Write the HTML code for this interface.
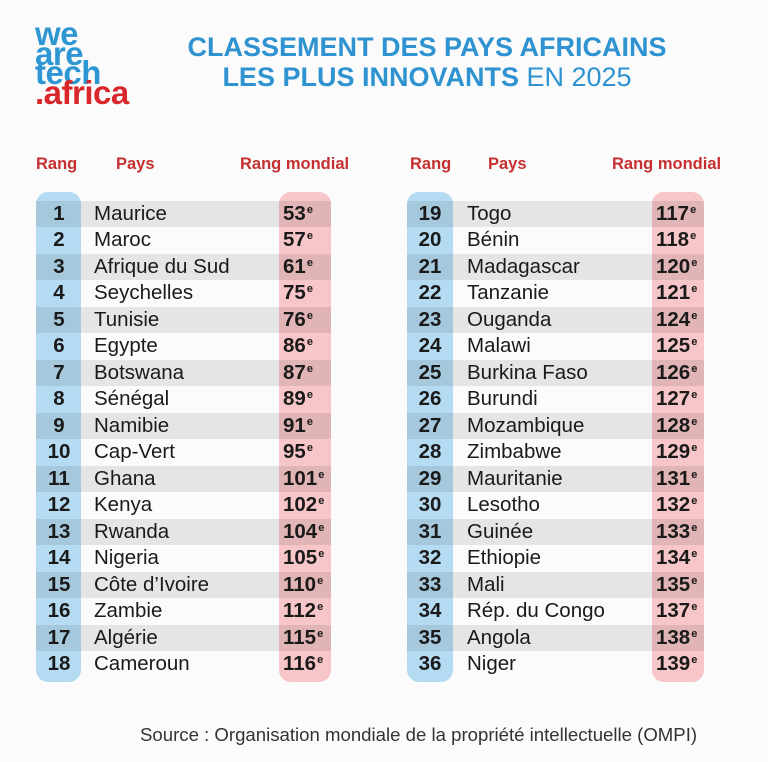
<!DOCTYPE html>
<html><head><meta charset="utf-8"><style>
body{margin:0;width:768px;height:762px;background:#fbfbfb;font-family:"Liberation Sans",Arial,sans-serif;position:relative;overflow:hidden}
.logo{position:absolute;left:35px;top:24px;font-weight:bold;font-size:33px;line-height:19.5px;letter-spacing:-0.5px;color:#2e97d3}
.logo .r{color:#d8262b}
.title{position:absolute;left:100px;width:654px;text-align:center;top:32px;color:#2e93d0;font-size:27px;line-height:30px;font-weight:bold}
.title span{font-weight:normal}
.h{position:absolute;top:155px;color:#c62f2f;font-size:16.5px;font-weight:bold}
.col{position:absolute;top:192px;height:490px;border-radius:12px}
.blue{background:#b5dbf2}
.red{background:#f7c6c8}
.tbl{position:absolute;top:201px}
.row{height:26.47px;position:relative;font-size:20.5px;line-height:26.47px;color:#1a1a1a}
.row.g{background:rgba(0,0,0,0.085)}
.n{position:absolute;width:46px;text-align:center;font-weight:bold}
.c{position:absolute}
.v{position:absolute;font-weight:bold}
.v sup{font-size:11px;line-height:0;vertical-align:7px;margin-left:1px}
.src{position:absolute;top:724px;left:140px;font-size:18.6px;color:#333;white-space:nowrap}
</style></head><body>
<div class="logo">we<br>are<br>tech<br><span class="r">.africa</span></div>
<div class="title">CLASSEMENT DES PAYS AFRICAINS<br>LES PLUS INNOVANTS <span>EN 2025</span></div>
<div class="h" style="left:36px">Rang</div><div class="h" style="left:116px">Pays</div><div class="h" style="left:240px">Rang mondial</div>
<div class="h" style="left:410px">Rang</div><div class="h" style="left:488px">Pays</div><div class="h" style="left:612px">Rang mondial</div>
<div class="col blue" style="left:36px;width:45px"></div>
<div class="col red" style="left:279px;width:52px"></div>
<div class="col blue" style="left:407px;width:46px"></div>
<div class="col red" style="left:652px;width:52px"></div>

<div class="tbl" style="left:36px;width:295px">
<div class="row g"><span class="n" style="left:0">1</span><span class="c" style="left:58px">Maurice</span><span class="v" style="left:247px">53<sup>e</sup></span></div>
<div class="row"><span class="n" style="left:0">2</span><span class="c" style="left:58px">Maroc</span><span class="v" style="left:247px">57<sup>e</sup></span></div>
<div class="row g"><span class="n" style="left:0">3</span><span class="c" style="left:58px">Afrique du Sud</span><span class="v" style="left:247px">61<sup>e</sup></span></div>
<div class="row"><span class="n" style="left:0">4</span><span class="c" style="left:58px">Seychelles</span><span class="v" style="left:247px">75<sup>e</sup></span></div>
<div class="row g"><span class="n" style="left:0">5</span><span class="c" style="left:58px">Tunisie</span><span class="v" style="left:247px">76<sup>e</sup></span></div>
<div class="row"><span class="n" style="left:0">6</span><span class="c" style="left:58px">Egypte</span><span class="v" style="left:247px">86<sup>e</sup></span></div>
<div class="row g"><span class="n" style="left:0">7</span><span class="c" style="left:58px">Botswana</span><span class="v" style="left:247px">87<sup>e</sup></span></div>
<div class="row"><span class="n" style="left:0">8</span><span class="c" style="left:58px">Sénégal</span><span class="v" style="left:247px">89<sup>e</sup></span></div>
<div class="row g"><span class="n" style="left:0">9</span><span class="c" style="left:58px">Namibie</span><span class="v" style="left:247px">91<sup>e</sup></span></div>
<div class="row"><span class="n" style="left:0">10</span><span class="c" style="left:58px">Cap-Vert</span><span class="v" style="left:247px">95<sup>e</sup></span></div>
<div class="row g"><span class="n" style="left:0">11</span><span class="c" style="left:58px">Ghana</span><span class="v" style="left:247px">101<sup>e</sup></span></div>
<div class="row"><span class="n" style="left:0">12</span><span class="c" style="left:58px">Kenya</span><span class="v" style="left:247px">102<sup>e</sup></span></div>
<div class="row g"><span class="n" style="left:0">13</span><span class="c" style="left:58px">Rwanda</span><span class="v" style="left:247px">104<sup>e</sup></span></div>
<div class="row"><span class="n" style="left:0">14</span><span class="c" style="left:58px">Nigeria</span><span class="v" style="left:247px">105<sup>e</sup></span></div>
<div class="row g"><span class="n" style="left:0">15</span><span class="c" style="left:58px">Côte d’Ivoire</span><span class="v" style="left:247px">110<sup>e</sup></span></div>
<div class="row"><span class="n" style="left:0">16</span><span class="c" style="left:58px">Zambie</span><span class="v" style="left:247px">112<sup>e</sup></span></div>
<div class="row g"><span class="n" style="left:0">17</span><span class="c" style="left:58px">Algérie</span><span class="v" style="left:247px">115<sup>e</sup></span></div>
<div class="row"><span class="n" style="left:0">18</span><span class="c" style="left:58px">Cameroun</span><span class="v" style="left:247px">116<sup>e</sup></span></div>
</div>

<div class="tbl" style="left:407px;width:297px">
<div class="row g"><span class="n" style="left:0">19</span><span class="c" style="left:60px">Togo</span><span class="v" style="left:249px">117<sup>e</sup></span></div>
<div class="row"><span class="n" style="left:0">20</span><span class="c" style="left:60px">Bénin</span><span class="v" style="left:249px">118<sup>e</sup></span></div>
<div class="row g"><span class="n" style="left:0">21</span><span class="c" style="left:60px">Madagascar</span><span class="v" style="left:249px">120<sup>e</sup></span></div>
<div class="row"><span class="n" style="left:0">22</span><span class="c" style="left:60px">Tanzanie</span><span class="v" style="left:249px">121<sup>e</sup></span></div>
<div class="row g"><span class="n" style="left:0">23</span><span class="c" style="left:60px">Ouganda</span><span class="v" style="left:249px">124<sup>e</sup></span></div>
<div class="row"><span class="n" style="left:0">24</span><span class="c" style="left:60px">Malawi</span><span class="v" style="left:249px">125<sup>e</sup></span></div>
<div class="row g"><span class="n" style="left:0">25</span><span class="c" style="left:60px">Burkina Faso</span><span class="v" style="left:249px">126<sup>e</sup></span></div>
<div class="row"><span class="n" style="left:0">26</span><span class="c" style="left:60px">Burundi</span><span class="v" style="left:249px">127<sup>e</sup></span></div>
<div class="row g"><span class="n" style="left:0">27</span><span class="c" style="left:60px">Mozambique</span><span class="v" style="left:249px">128<sup>e</sup></span></div>
<div class="row"><span class="n" style="left:0">28</span><span class="c" style="left:60px">Zimbabwe</span><span class="v" style="left:249px">129<sup>e</sup></span></div>
<div class="row g"><span class="n" style="left:0">29</span><span class="c" style="left:60px">Mauritanie</span><span class="v" style="left:249px">131<sup>e</sup></span></div>
<div class="row"><span class="n" style="left:0">30</span><span class="c" style="left:60px">Lesotho</span><span class="v" style="left:249px">132<sup>e</sup></span></div>
<div class="row g"><span class="n" style="left:0">31</span><span class="c" style="left:60px">Guinée</span><span class="v" style="left:249px">133<sup>e</sup></span></div>
<div class="row"><span class="n" style="left:0">32</span><span class="c" style="left:60px">Ethiopie</span><span class="v" style="left:249px">134<sup>e</sup></span></div>
<div class="row g"><span class="n" style="left:0">33</span><span class="c" style="left:60px">Mali</span><span class="v" style="left:249px">135<sup>e</sup></span></div>
<div class="row"><span class="n" style="left:0">34</span><span class="c" style="left:60px">Rép. du Congo</span><span class="v" style="left:249px">137<sup>e</sup></span></div>
<div class="row g"><span class="n" style="left:0">35</span><span class="c" style="left:60px">Angola</span><span class="v" style="left:249px">138<sup>e</sup></span></div>
<div class="row"><span class="n" style="left:0">36</span><span class="c" style="left:60px">Niger</span><span class="v" style="left:249px">139<sup>e</sup></span></div>
</div>

<div class="src">Source : Organisation mondiale de la propriété intellectuelle (OMPI)</div>
</body></html>
